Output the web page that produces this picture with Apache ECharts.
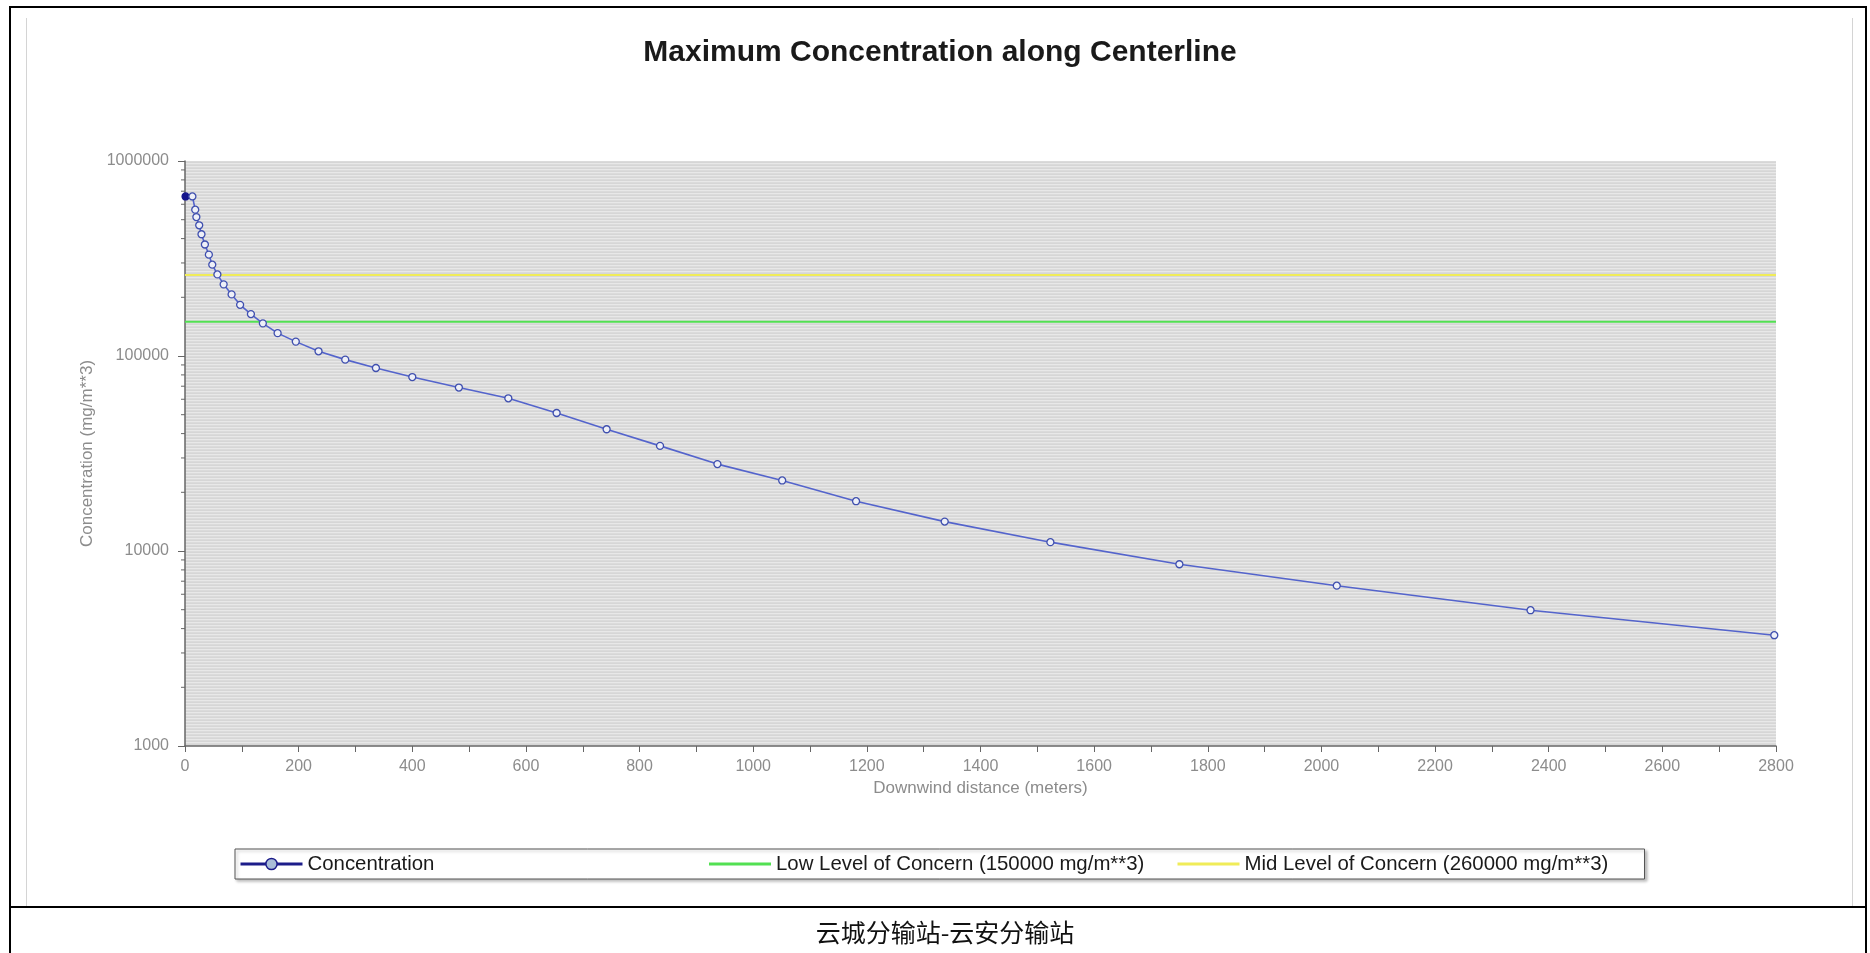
<!DOCTYPE html>
<html>
<head>
<meta charset="utf-8">
<title>Maximum Concentration along Centerline</title>
<script src="https://cdn.jsdelivr.net/npm/echarts@6/dist/echarts.min.js"></script>
<style>
  html, body { margin: 0; padding: 0; background: #fff; }
  #chart { width: 1870px; height: 953px; }
</style>
</head>
<body>
<div id="chart"></div>
<script>
// Downwind distance (m) and maximum centerline concentration (mg/m**3)
const distances = [1, 13, 18, 20, 25, 29, 35, 42, 48, 57, 68, 82, 97, 116, 137, 163, 195, 235, 282, 336,
  400, 482, 569, 654, 742, 836, 937, 1051, 1181, 1337, 1523, 1750, 2027, 2368, 2797];
const concentrations = [658000, 658000, 563000, 516000, 468000, 421000, 373000, 331000, 294000, 262000,
  233000, 207000, 183000, 164000, 147000, 131000, 118500, 105700, 95800, 86800,
  78000, 68900, 60700, 51000, 42100, 34600, 27900, 23000, 18000, 14150,
  11100, 8550, 6640, 4970, 3700];

// Levels of concern (mg/m**3)
const lowLevel = 150000;
const midLevel = 260000;

const seriesNames = ['Concentration', 'Low Level of Concern (150000 mg/m**3)', 'Mid Level of Concern (260000 mg/m**3)'];
const xRange = [0, 2800];
const yRange = [1000, 1000000];
const captionText = '云城分输站-云安分输站';

const concentrationPoints = distances.map((d, i) => i === 0
  ? { value: [d, concentrations[i]], itemStyle: { color: '#14148c', borderColor: '#14148c' } }
  : [d, concentrations[i]]);

// Log-decade minor ticks (2..9 in each decade) on the concentration axis
const minorTickValues = [];
for (let d = yRange[0]; d < yRange[1]; d *= 10) {
  for (let k = 2; k <= 9; k++) minorTickValues.push([xRange[0], k * d]);
}

// Finely striped plot background
const stripe = document.createElement('canvas');
stripe.width = 4; stripe.height = 3;
const sctx = stripe.getContext('2d');
['#d6d6d6', '#e8e8e8', '#dbdbdb'].forEach((c, i) => { sctx.fillStyle = c; sctx.fillRect(0, i, 4, 1); });

const labelGray = '#8c8c8c';
const axisGray = '#666';
const font = '"Liberation Sans", Arial, sans-serif';
const hiddenSymbol = { color: 'rgba(0,0,0,0)', borderColor: 'rgba(0,0,0,0)', borderWidth: 0 };

const chart = echarts.init(document.getElementById('chart'), null, { renderer: 'canvas' });
chart.setOption({
  backgroundColor: '#fff',
  animation: false,
  title: [
    {
      text: 'Maximum Concentration along Centerline',
      left: 935, top: 33, textAlign: 'center',
      textStyle: { fontFamily: font, fontSize: 30, fontWeight: 'bold', color: '#1a1a1a' }
    },
    {
      text: captionText,
      left: 940, top: 915, textAlign: 'center',
      textStyle: { fontFamily: '"Noto Sans CJK SC", sans-serif', fontSize: 25, fontWeight: 'normal', color: '#111' }
    }
  ],
  grid: {
    left: 185, right: 94, top: 161, bottom: 207,
    show: true, borderWidth: 0,
    backgroundColor: { image: stripe, repeat: 'repeat' }
  },
  legend: {
    left: 235, top: 849,
    data: [
      { name: seriesNames[0], itemStyle: { color: '#a9bdd8', borderColor: '#1c1c8a', borderWidth: 1.5 }, lineStyle: { color: '#1c1c8a', width: 3 } },
      { name: seriesNames[1], itemStyle: hiddenSymbol, lineStyle: { color: '#52e052', width: 3 } },
      { name: seriesNames[2], itemStyle: hiddenSymbol, lineStyle: { color: '#f0ec58', width: 3 } }
    ],
    itemWidth: 62, itemHeight: 14, itemGap: 2,
    padding: [4, 2, 4, 4],
    backgroundColor: '#fff',
    borderColor: '#555', borderWidth: 1,
    shadowColor: 'rgba(0,0,0,0.25)', shadowBlur: 3, shadowOffsetX: 2, shadowOffsetY: 2,
    textStyle: { fontFamily: font, fontSize: 20.4, color: '#1a1a1a', width: 398, lineHeight: 22 }
  },
  xAxis: {
    type: 'value', min: xRange[0], max: xRange[1], interval: 100,
    name: 'Downwind distance (meters)', nameLocation: 'middle', nameGap: 34,
    nameTextStyle: { fontFamily: font, fontSize: 17, color: labelGray },
    axisLine: { show: true, lineStyle: { color: axisGray, width: 1.5 } },
    axisTick: { show: true, length: 6, lineStyle: { color: axisGray } },
    axisLabel: {
      margin: 13, fontFamily: font, fontSize: 16, color: labelGray,
      formatter: v => (v % 200 === 0 ? String(v) : '')
    },
    splitLine: { show: false }
  },
  yAxis: {
    type: 'log', logBase: 10, min: yRange[0], max: yRange[1],
    name: 'Concentration (mg/m**3)', nameLocation: 'middle', nameGap: 87,
    nameTextStyle: { fontFamily: font, fontSize: 17, color: labelGray },
    axisLine: { show: true, lineStyle: { color: axisGray, width: 1.5 } },
    axisTick: { show: true, length: 7, lineStyle: { color: axisGray } },
    axisLabel: { margin: 16, fontFamily: font, fontSize: 16, color: labelGray, formatter: v => String(v) },
    splitLine: { show: false }
  },
  series: [
    {
      name: seriesNames[2], type: 'line', symbol: 'none', silent: true,
      lineStyle: { color: '#f0ec58', width: 2 },
      itemStyle: { color: '#f0ec58' },
      data: [[xRange[0], midLevel], [xRange[1], midLevel]], z: 2
    },
    {
      name: seriesNames[1], type: 'line', symbol: 'none', silent: true,
      lineStyle: { color: '#52e052', width: 2 },
      itemStyle: { color: '#52e052' },
      data: [[xRange[0], lowLevel], [xRange[1], lowLevel]], z: 2
    },
    {
      name: seriesNames[0], type: 'line',
      symbol: 'circle', symbolSize: 7, showAllSymbol: true,
      lineStyle: { color: '#5464cc', width: 1.6 },
      itemStyle: { color: '#eef0f8', borderColor: '#3f4fae', borderWidth: 1.3 },
      data: concentrationPoints, z: 4
    },
    {
      name: 'minorTicks', type: 'custom', silent: true, clip: false,
      data: minorTickValues,
      renderItem: (params, api) => {
        const p = api.coord([api.value(0), api.value(1)]);
        return {
          type: 'line',
          shape: { x1: p[0] - 4, y1: p[1], x2: p[0], y2: p[1] },
          style: { stroke: axisGray, lineWidth: 1 }
        };
      },
      z: 3
    }
  ],
  graphic: [
    { type: 'line', shape: { x1: 26.5, y1: 18, x2: 26.5, y2: 906 }, style: { stroke: '#d4d4d4', lineWidth: 1 }, silent: true },
    { type: 'line', shape: { x1: 1852.5, y1: 18, x2: 1852.5, y2: 906 }, style: { stroke: '#d4d4d4', lineWidth: 1 }, silent: true },
    { type: 'line', shape: { x1: 9, y1: 7, x2: 1867, y2: 7 }, style: { stroke: '#000', lineWidth: 2 }, silent: true },
    { type: 'line', shape: { x1: 10, y1: 6, x2: 10, y2: 953 }, style: { stroke: '#000', lineWidth: 2 }, silent: true },
    { type: 'line', shape: { x1: 1866, y1: 6, x2: 1866, y2: 953 }, style: { stroke: '#000', lineWidth: 2 }, silent: true },
    { type: 'line', shape: { x1: 9, y1: 907, x2: 1867, y2: 907 }, style: { stroke: '#000', lineWidth: 2 }, silent: true }
  ]
});
</script>
</body>
</html>
